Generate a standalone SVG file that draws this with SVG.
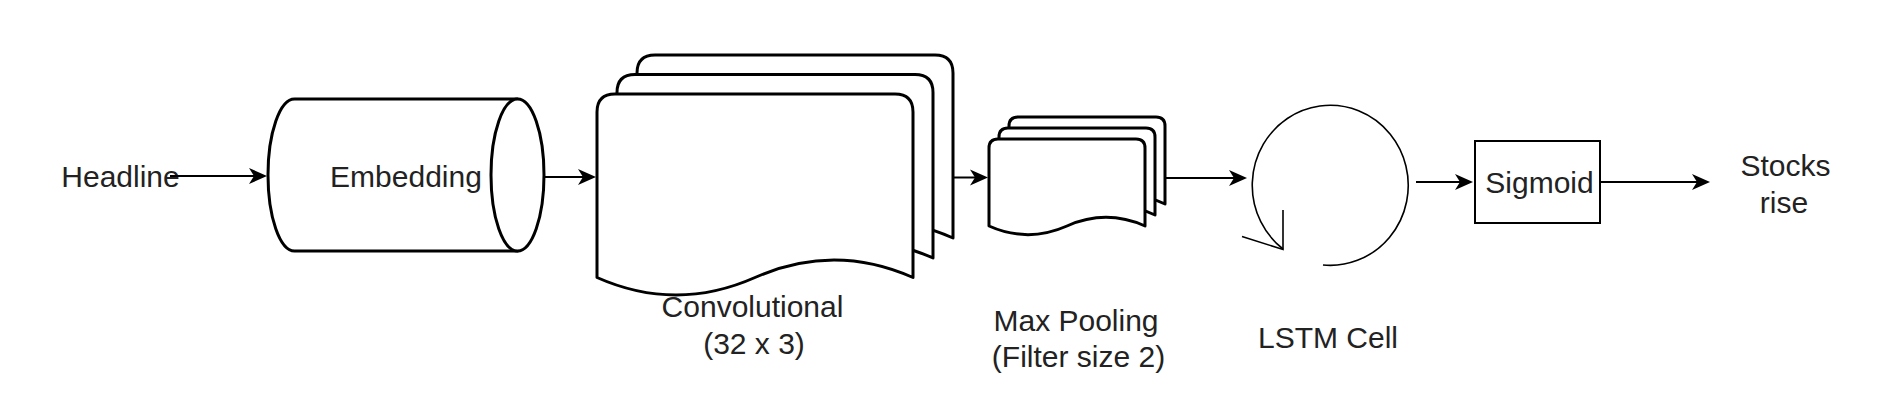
<svg xmlns="http://www.w3.org/2000/svg" width="1898" height="408" viewBox="0 0 1898 408">
  <style>
    .t { font-family: "Liberation Sans", Arial, sans-serif; font-size: 30px; fill: #222; text-anchor: middle; }
    .shape { fill: #fff; stroke: #000; stroke-width: 3; stroke-linejoin: round; }
    .conn { fill: none; stroke: #000; stroke-width: 2; }
    .thin { fill: none; stroke: #000; stroke-width: 1.6; }
  </style>
  <defs>
    <marker id="arr" viewBox="0 0 18 18" refX="5" refY="9" markerWidth="18" markerHeight="18" markerUnits="userSpaceOnUse" orient="auto" overflow="visible">
      <path d="M0,1 L18,9 L0,17 L5,9 Z" fill="#000"/>
    </marker>
  </defs>
  <rect width="1898" height="408" fill="#fff"/>

  <g id="headline">
    <text class="t" x="120.5" y="186.5">Headline</text>
  </g>

  <g id="embedding">
    <path class="shape" d="M517.5,99 L294.5,99 A26.5,76 0 0 0 294.5,251 L517.5,251 Z"/>
    <ellipse class="shape" cx="517.5" cy="175" rx="26.5" ry="76"/>
    <text class="t" x="406" y="186.5">Embedding</text>
  </g>

  <g id="convolutional">
    <path class="shape" d="M637,237 L637,73 Q637,55 655,55 L935,55 Q953,55 953,73 L953,238 Q874,203 795,238 Q716,273 637,238 Z"/>
    <path class="shape" d="M617,257.5 L617,92.5 Q617,74.5 635,74.5 L915,74.5 Q933,74.5 933,92.5 L933,258 Q854,223 775,258 Q696,293 617,258 Z"/>
    <path class="shape" d="M597,277.5 L597,112 Q597,94 615,94 L895,94 Q913,94 913,112 L913,277.5 Q834,242.5 755,277.5 Q676,312.5 597,277.5 Z"/>
    <text class="t" x="752.5" y="317">Convolutional</text>
    <text class="t" x="754" y="354">(32 x 3)</text>
  </g>

  <g id="maxpooling">
    <path class="shape" d="M1009,204 L1009,126 Q1009,117 1018,117 L1156,117 Q1165,117 1165,126 L1165,204 Q1126,186.7 1087,204 Q1048,221.3 1009,204 Z"/>
    <path class="shape" d="M999,215 L999,137 Q999,128 1008,128 L1146,128 Q1155,128 1155,137 L1155,215 Q1116,197.7 1077,215 Q1038,232.3 999,215 Z"/>
    <path class="shape" d="M989,226 L989,148 Q989,139 998,139 L1136,139 Q1145,139 1145,148 L1145,226 Q1106,208.7 1067,226 Q1028,243.3 989,226 Z"/>
    <text class="t" x="1076" y="331">Max Pooling</text>
    <text class="t" x="1078.5" y="367">(Filter size 2)</text>
  </g>

  <g id="lstm">
    <path class="thin" d="M1323,265 A78,80 0 1 0 1283,249"/>
    <path class="thin" d="M1283,210 L1283,249.5 L1242,236.5"/>
    <text class="t" x="1328" y="348">LSTM Cell</text>
  </g>

  <g id="sigmoid">
    <rect x="1475" y="141" width="125" height="82" fill="#fff" stroke="#000" stroke-width="2"/>
    <text class="t" x="1539.5" y="193">Sigmoid</text>
  </g>

  <g id="output">
    <text class="t" x="1785.5" y="176">Stocks</text>
    <text class="t" x="1784" y="213">rise</text>
  </g>

  <g id="connectors">
    <line class="conn" x1="170" y1="176" x2="254" y2="176" marker-end="url(#arr)"/>
    <line class="conn" x1="544" y1="177" x2="583" y2="177" marker-end="url(#arr)"/>
    <line class="conn" x1="954" y1="177.5" x2="975" y2="177.5" marker-end="url(#arr)"/>
    <line class="conn" x1="1165" y1="178" x2="1234" y2="178" marker-end="url(#arr)"/>
    <line class="conn" x1="1416" y1="182" x2="1460" y2="182" marker-end="url(#arr)"/>
    <line class="conn" x1="1600" y1="182" x2="1697" y2="182" marker-end="url(#arr)"/>
  </g>
</svg>
